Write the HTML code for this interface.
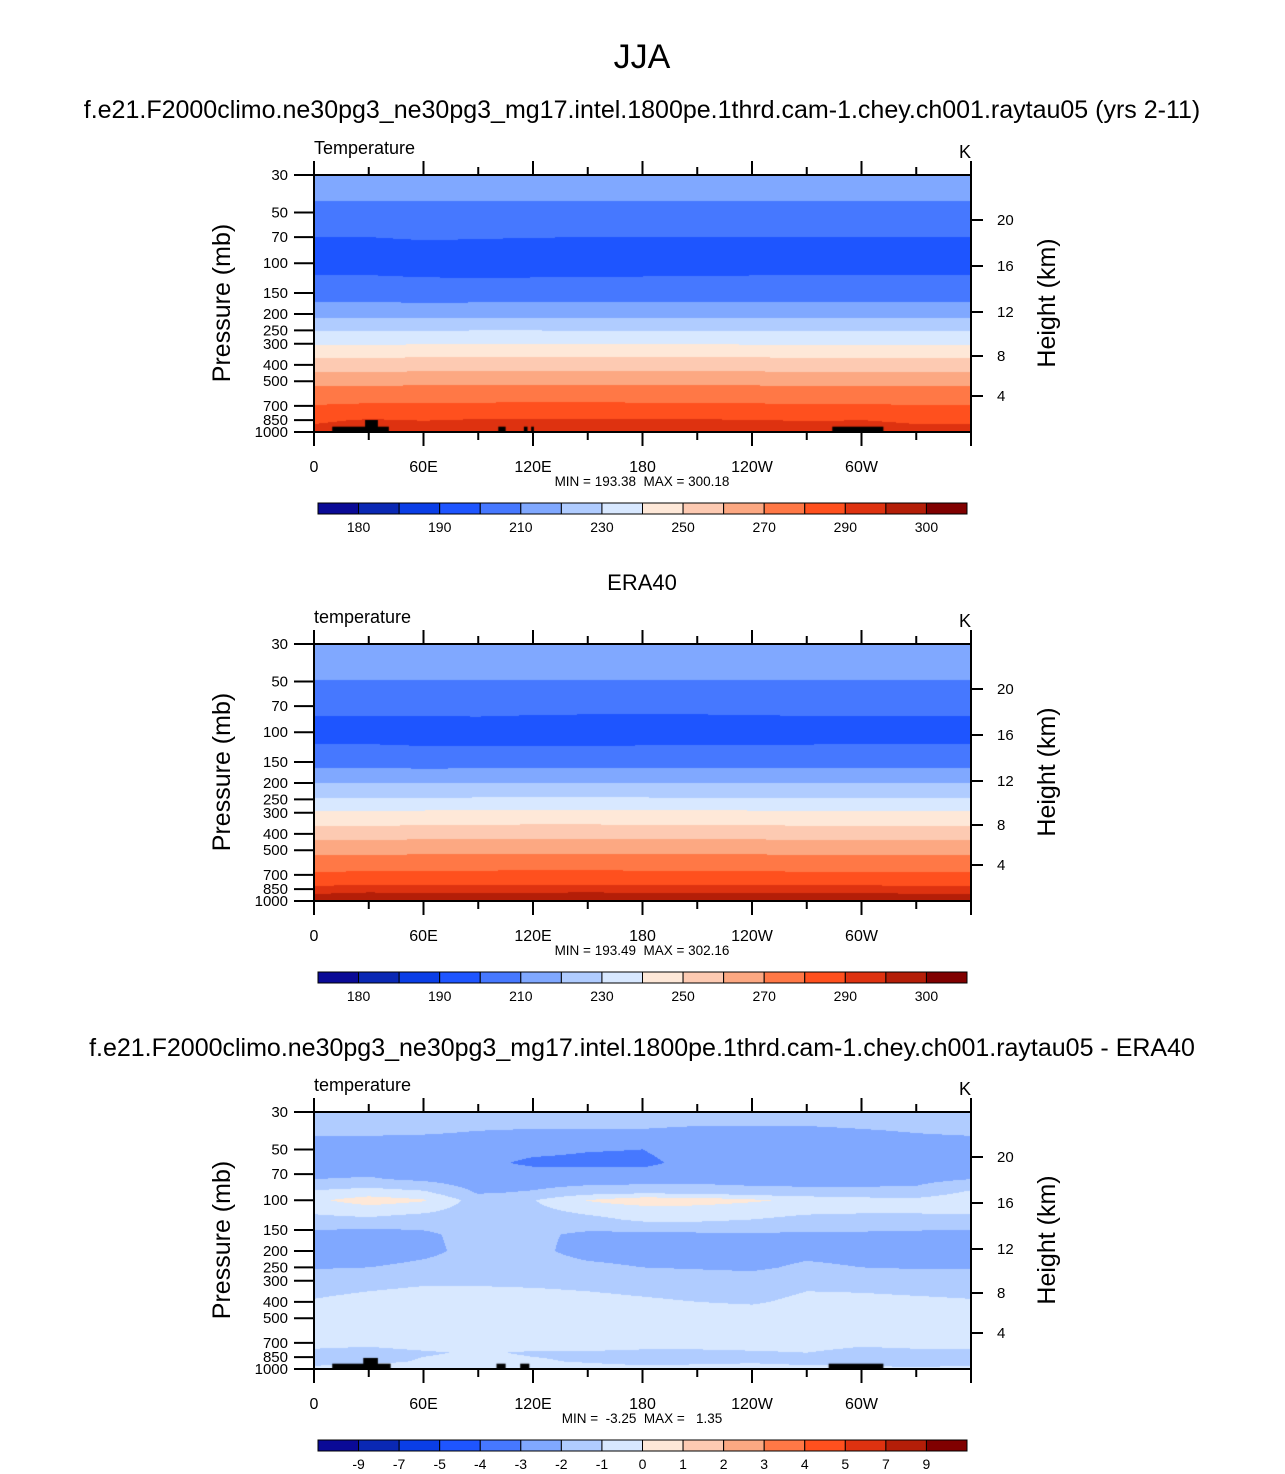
<!DOCTYPE html>
<html><head><meta charset="utf-8">
<style>
html,body{margin:0;padding:0;background:#fff;}
#root{position:relative;width:1285px;height:1474px;overflow:hidden;font-family:"Liberation Sans",sans-serif;}
canvas{position:absolute;}
svg{position:absolute;left:0;top:0;}
</style></head>
<body>
<div id="root">
<canvas id="c1" width="657" height="257" style="left:314px;top:175px"></canvas>
<canvas id="c2" width="657" height="257" style="left:314px;top:644px"></canvas>
<canvas id="c3" width="657" height="257" style="left:314px;top:1112px"></canvas>
<svg id="ov" width="1285" height="1474"></svg>
</div>
<script>
// ---------- data ----------
const lons = [0,30,60,90,120,150,180,210,240,270,300,330,360];
const tLevels = [30,43,60,70,95,119,170,211,252,305,364,441,534,683,849,1000];
const tModel = [
 [217,217,217,217,217,217,217,217,217,217,217,217,217],
 [210,210,210,210,210,210,210,210,210,210,210,210,210],
 [203.5,203.5,203.8,203.8,203.6,203.5,203.5,203.5,203.5,203.5,203.5,203.5,203.5],
 [200,200,200.8,200.6,200.2,200,200,200,200,200,200,200,200],
 [194.5,194.5,195,194,193.5,193.4,193.5,193.6,193.8,194,194.2,194.4,194.5],
 [200.4,200.3,199.5,199.2,199.4,199.6,199.8,200,200.2,200.3,200.4,200.4,200.4],
 [210,210,209.6,209.8,210,210,210,210,210,210,210,210,210],
 [220,220,220,220,220,220,220,220,220,220,220,220,220],
 [230,230,230.3,230.4,230.4,230.3,230.2,230.2,230,230,230,230,230],
 [240,240,240.5,240.8,240.8,240.8,240.6,240.5,240.3,240.2,240,240,240],
 [250,250,250.5,250.8,251,251,250.8,250.6,250.4,250.2,250,250,250],
 [260,260,260.5,260.8,261,261,260.8,260.6,260.4,260.2,260,260,260],
 [270,270,270.6,270.8,271,271,270.8,270.6,270.4,270.2,270,269.8,270],
 [279.5,280.5,280.5,280.8,281,281,280.8,280.6,280.4,280,280,279.5,279.5],
 [289,290.5,289.8,290.5,290.8,290.8,290.6,290.4,290.2,289.6,290,289,289],
 [292,293.5,292.5,294,294.5,294.5,294.4,294.2,293.8,293,293,292,292]
];
const eLevels = [30,49,66,80,100,119,163,200,245,293,359,435,534,673,815,909,1000];
const tEra = [
 [217,217,217,217,217,217,217,217,217,217,217,217,217],
 [210,210,210,210,210,210,210,210,210,210,210,210,210],
 [203.5,203.5,203.5,203.5,203.4,203.3,203.3,203.3,203.4,203.5,203.5,203.5,203.5],
 [200,200,200,200.2,199.8,199.6,199.5,199.6,199.8,200,200,200,200],
 [196,196,196.5,195.5,194.5,193.8,193.5,193.6,194,194.6,195.2,195.8,196],
 [200.3,200.3,199.6,199.4,199.5,199.6,199.8,199.9,200,200.2,200.3,200.3,200.3],
 [210,210,209.6,209.8,210,210,210,210,210,210,210,210,210],
 [220,220,220,220,220,220,220,220,220,220,220,220,220],
 [230,230,230.2,230.3,230.4,230.4,230.3,230.2,230,230,230,230,230],
 [240,240,240.4,240.8,241,241,240.8,240.6,240.4,240.2,240,240,240],
 [250,250,250.5,250.8,251,251,250.8,250.6,250.4,250.2,250,250,250],
 [260,260,260.5,260.8,261,261,260.8,260.6,260.4,260.2,260,260,260],
 [270,270,270.5,270.8,271,271,270.8,270.6,270.4,270.2,270,270,270],
 [280,280.5,280.5,280.8,281,281,280.8,280.6,280.4,280.2,280,279.8,280],
 [290,291,290.5,290.8,291,291,290.8,290.6,290.4,290.5,290.6,290,290],
 [295,296,295.5,295.5,295.8,296,295.8,295.6,295.4,295.8,296,295,295],
 [297,299,298,298,298.5,299,298.5,298,298,298.5,299,297,297]
];
const dLevels = [30,40,50,60,75,90,100,110,130,160,200,250,300,400,500,700,800,900,1000];
const tDiff = [
 [-1.6,-1.6,-1.6,-1.6,-1.6,-1.6,-1.6,-1.6,-1.6,-1.6,-1.6,-1.6,-1.6],
 [-1.9,-1.9,-1.95,-2.05,-2.1,-2.1,-2.1,-2.2,-2.2,-2.2,-2.1,-2.0,-1.9],
 [-2.5,-2.5,-2.5,-2.6,-2.8,-2.95,-3.0,-2.6,-2.5,-2.5,-2.5,-2.5,-2.5],
 [-2.6,-2.6,-2.6,-2.8,-3.15,-3.2,-3.2,-2.7,-2.6,-2.6,-2.6,-2.6,-2.6],
 [-2.0,-1.9,-2.2,-2.6,-2.5,-2.5,-2.5,-2.4,-2.4,-2.4,-2.4,-2.3,-2.0],
 [-0.8,-0.5,-0.8,-2.1,-1.9,-1.4,-1.2,-1.3,-1.6,-1.7,-1.7,-1.7,-0.8],
 [-0.2,0.5,0.1,-1.5,-1.05,0.05,0.7,0.6,0.2,-0.3,-0.6,-0.7,-0.2],
 [-0.6,-0.2,-0.5,-1.5,-1.2,-0.5,-0.2,-0.2,-0.5,-0.7,-0.8,-0.8,-0.6],
 [-1.3,-1.2,-1.5,-1.6,-1.6,-1.3,-0.8,-0.8,-1.0,-1.2,-1.2,-1.2,-1.3],
 [-2.3,-2.5,-2.2,-1.6,-1.8,-2.2,-2.3,-2.2,-2.1,-2.2,-2.2,-2.3,-2.3],
 [-2.4,-2.7,-2.3,-1.6,-1.8,-2.3,-2.4,-2.4,-2.5,-2.3,-2.4,-2.4,-2.4],
 [-2.1,-2.0,-1.7,-1.5,-1.6,-1.8,-2.0,-2.1,-2.2,-1.8,-2.0,-2.1,-2.1],
 [-1.3,-1.2,-1.1,-1.1,-1.15,-1.2,-1.3,-1.4,-1.5,-1.2,-1.2,-1.25,-1.3],
 [-0.95,-0.8,-0.7,-0.7,-0.7,-0.8,-0.9,-1.0,-1.1,-0.8,-0.85,-0.9,-0.95],
 [-0.5,-0.4,-0.3,-0.3,-0.3,-0.3,-0.4,-0.5,-0.5,-0.4,-0.4,-0.5,-0.5],
 [-0.7,-0.8,-0.6,-0.5,-0.5,-0.5,-0.6,-0.6,-0.6,-0.6,-0.8,-0.7,-0.7],
 [-1.2,-1.3,-1.1,-0.9,-1.1,-1.1,-1.2,-1.2,-1.1,-1.0,-1.3,-1.2,-1.2],
 [-1.3,-1.3,-0.9,-0.7,-0.9,-1.1,-1.3,-1.2,-1.1,-1.2,-1.3,-1.3,-1.3],
 [-0.8,-0.4,-0.5,-0.5,-0.5,-0.6,-0.7,-0.7,-0.7,-0.8,-0.8,-0.9,-0.8]
];
const tempBounds = [180,185,190,200,210,220,230,240,250,260,270,280,290,295,300];
const tempLabels = ["180","190","210","230","250","270","290","300"];
const diffBounds = [-9,-7,-5,-4,-3,-2,-1,0,1,2,3,4,5,7,9];
const diffLabels = ["-9","-7","-5","-4","-3","-2","-1","0","1","2","3","4","5","7","9"];
const palette = ["#0a0a96","#0a28b4","#0a3ee6","#1e55ff","#4678ff","#80a8ff","#b0ccff","#d8e8ff","#fee8d8","#fdcab2","#fca882","#ff7846","#ff501e","#de3210","#b41e08","#800000"];
const pTicks = [30,50,70,100,150,200,250,300,400,500,700,850,1000];
const hTicks = ["20","16","12","8","4"];
const hOffsets = [45,91,137,181,221];
const lonLabels = ["0","60E","120E","180","120W","60W"];
const topoModel = [[10,41,930],[28,35,849],[101,105,930],[115,117,930],[119,120.5,930],[284,312,930]];
const topoDiff = [[10,42,930],[27,35,860],[100,105,930],[113,118,930],[282,312,930]];

// ---------- geometry ----------
const PW=657, PH=257, P0=30, P1=1000;
const yOfP = p => Math.log(p/P0)/Math.log(P1/P0)*PH;
const xOfLon = l => l/360*PW;

function sample(levels, grid, lon, p){
  const lp=Math.log(p);
  let i=0; while(i<levels.length-2 && Math.log(levels[i+1])<lp) i++;
  let ty=(lp-Math.log(levels[i]))/(Math.log(levels[i+1])-Math.log(levels[i]));
  ty=Math.max(0,Math.min(1,ty));
  let j=Math.min(lons.length-2,Math.floor(lon/30)); let tx=(lon-lons[j])/30;
  const a=grid[i][j]*(1-tx)+grid[i][j+1]*tx, b=grid[i+1][j]*(1-tx)+grid[i+1][j+1]*tx;
  return a*(1-ty)+b*ty;
}
function binOf(v,bounds){let k=0;while(k<bounds.length&&v>=bounds[k])k++;return k;}
function hex(c){return [parseInt(c.substr(1,2),16),parseInt(c.substr(3,2),16),parseInt(c.substr(5,2),16)];}
const pal=palette.map(hex);
function drawField(id,levels,grid,bounds,topo){
  const cv=document.getElementById(id),ctx=cv.getContext('2d');
  const img=ctx.createImageData(PW,PH);
  for(let y=0;y<PH;y++){const p=P0*Math.exp((y+0.5)/PH*Math.log(P1/P0));
    for(let x=0;x<PW;x++){const lon=(x+0.5)/PW*360;
      const c=pal[binOf(sample(levels,grid,lon,p),bounds)];const o=(y*PW+x)*4;
      img.data[o]=c[0];img.data[o+1]=c[1];img.data[o+2]=c[2];img.data[o+3]=255;}}
  ctx.putImageData(img,0,0);
  ctx.fillStyle='#000';
  topo.forEach(t=>{const x0=xOfLon(t[0]),x1=xOfLon(t[1]),y0=yOfP(t[2]);ctx.fillRect(x0,y0,x1-x0,PH-y0);});
}
drawField('c1',tLevels,tModel,tempBounds,topoModel);
drawField('c2',eLevels,tEra,tempBounds,[]);
drawField('c3',dLevels,tDiff,diffBounds,topoDiff);

// ---------- annotations ----------
const NS='http://www.w3.org/2000/svg', svg=document.getElementById('ov');
function el(tag,attrs,parent){const e=document.createElementNS(NS,tag);for(const k in attrs)e.setAttribute(k,attrs[k]);(parent||svg).appendChild(e);return e;}
function txt(x,y,s,size,anchor,parent,name){const t=el('text',{x:x,y:y,'font-size':size,'text-anchor':anchor||'middle','font-family':'Liberation Sans, sans-serif',fill:'#000'},parent);t.textContent=s;
  t.setAttribute('xml:space','preserve');t.style.whiteSpace='pre';
  
  
  return t;}
txt(642,68,'JJA',34,'middle',null,'figure-title');
txt(642,118,'f.e21.F2000climo.ne30pg3_ne30pg3_mg17.intel.1800pe.1thrd.cam-1.chey.ch001.raytau05 (yrs 2-11)',25,'middle',null,'model-case-title');
txt(642,590,'ERA40',22,'middle',null,'era40-title');
txt(642,1056,'f.e21.F2000climo.ne30pg3_ne30pg3_mg17.intel.1800pe.1thrd.cam-1.chey.ch001.raytau05 - ERA40',25,'middle',null,'difference-title');

function panel(top,varName,minmax,cbTop,bounds,labels,labelEvery,name){
  const g=el('g',{});
  
  
  const L=314,R=971,B=top+PH;
  txt(L,top-21,varName,18,'start',g,'variable-label');
  txt(965,top-17,'K',18,'middle',g,'units-label');
  el('rect',{x:L,y:top,width:PW,height:PH,fill:'none',stroke:'#000','stroke-width':2},g);
  for(let lon=0;lon<=360;lon+=30){const x=L+xOfLon(lon),maj=lon%60===0;
    el('line',{x1:x,y1:top,x2:x,y2:top-(maj?14:8),stroke:'#000','stroke-width':2},g);
    el('line',{x1:x,y1:B,x2:x,y2:B+(maj?14:8),stroke:'#000','stroke-width':2},g);}
  lonLabels.forEach((s,i)=>txt(L+xOfLon(i*60),B+40,s,16,'middle',g,'x-tick-label'));
  txt(642,B+54,minmax,13.5,'middle',g,'min-max-label');
  pTicks.forEach(p=>{const y=top+yOfP(p);el('line',{x1:L,y1:y,x2:L-20,y2:y,stroke:'#000','stroke-width':2},g);
    txt(L-26,y+5,String(p),15,'end',g,'y-tick-label');});
  hTicks.forEach((h,i)=>{const y=top+hOffsets[i];el('line',{x1:R,y1:y,x2:R+12,y2:y,stroke:'#000','stroke-width':2},g);
    txt(R+26,y+5,h,15,'start',g,'right-tick-label');});
  const yl=txt(0,0,'Pressure (mb)',25,'middle',g,'y-axis-title');yl.setAttribute('transform',`translate(230,${top+128}) rotate(-90)`);
  const hl=txt(0,0,'Height (km)',25,'middle',g,'right-axis-title');hl.setAttribute('transform',`translate(1055,${top+128}) rotate(-90)`);
  const cbL=318,cbW=649,n=palette.length,w=cbW/n;
  palette.forEach((c,i)=>{const r=el('rect',{x:cbL+i*w,y:cbTop,width:w,height:11,fill:c,stroke:'#000','stroke-width':1},g);
    
    });
  labels.forEach((s,i)=>txt(cbL+(i*labelEvery+1)*w,cbTop+29,s,14,'middle',g,'colorbar-label'));
}
panel(175,'Temperature','MIN = 193.38  MAX = 300.18',503,tempBounds,tempLabels,2,'model-panel');
panel(644,'temperature','MIN = 193.49  MAX = 302.16',972,tempBounds,tempLabels,2,'era40-panel');
panel(1112,'temperature','MIN =  -3.25  MAX =   1.35',1440,diffBounds,diffLabels,1,'difference-panel');
</script>
</body></html>
